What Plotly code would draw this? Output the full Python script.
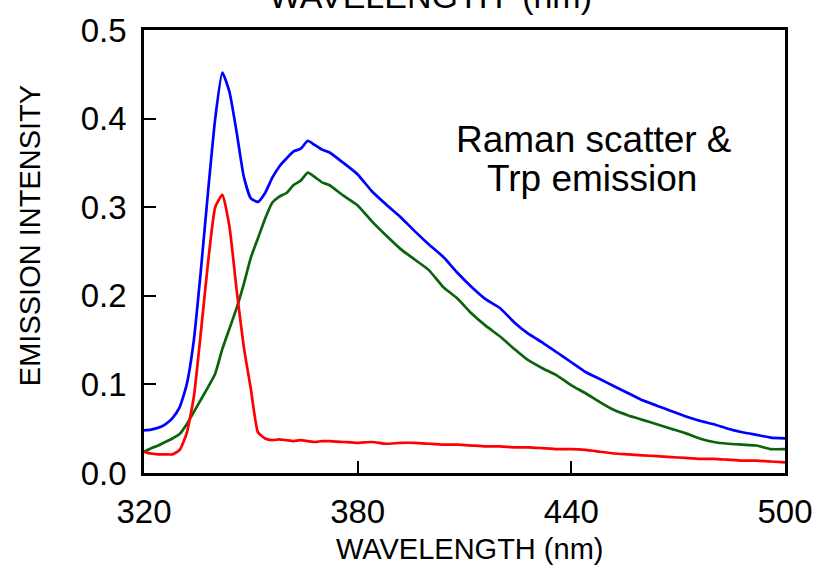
import plotly.graph_objects as go

wavelength = [320, 322, 324, 326, 328, 330, 332, 334, 336, 338, 340, 342, 344, 346, 348,
              350, 352, 354, 356, 358, 360, 362, 364, 366, 368, 370, 372, 376, 380, 384,
              388, 392, 396, 400, 404, 408, 412, 416, 420, 424, 428, 432, 436, 440, 444,
              448, 452, 456, 460, 464, 468, 472, 476, 480, 484, 488, 492, 496, 500]

raman_trp = [0.048, 0.049, 0.051, 0.055, 0.062, 0.074, 0.100, 0.150, 0.230, 0.318, 0.400, 0.452, 0.430, 0.385, 0.335,
             0.310, 0.306, 0.316, 0.333, 0.346, 0.355, 0.363, 0.366, 0.375, 0.370, 0.365, 0.362, 0.350, 0.337, 0.318,
             0.303, 0.289, 0.273, 0.258, 0.244, 0.226, 0.210, 0.196, 0.186, 0.170, 0.157, 0.147, 0.136, 0.125, 0.114,
             0.106, 0.098, 0.090, 0.082, 0.076, 0.070, 0.064, 0.059, 0.055, 0.050, 0.046, 0.043, 0.040, 0.039]

trp_only = [0.024, 0.028, 0.031, 0.035, 0.039, 0.044, 0.055, 0.069, 0.083, 0.097, 0.112, 0.140, 0.163, 0.186, 0.213,
            0.243, 0.265, 0.287, 0.305, 0.312, 0.316, 0.325, 0.330, 0.339, 0.334, 0.328, 0.325, 0.313, 0.302, 0.284,
            0.268, 0.253, 0.241, 0.229, 0.210, 0.197, 0.180, 0.166, 0.154, 0.140, 0.127, 0.118, 0.110, 0.099, 0.090,
            0.080, 0.071, 0.065, 0.060, 0.055, 0.050, 0.045, 0.039, 0.035, 0.033, 0.032, 0.031, 0.027, 0.027]

raman_only = [0.024, 0.022, 0.021, 0.021, 0.021, 0.026, 0.045, 0.086, 0.160, 0.238, 0.300, 0.314, 0.278, 0.207, 0.143,
              0.095, 0.046, 0.039, 0.037, 0.038, 0.037, 0.036, 0.037, 0.036, 0.035, 0.036, 0.036, 0.035, 0.034, 0.035,
              0.033, 0.034, 0.034, 0.033, 0.032, 0.032, 0.031, 0.030, 0.030, 0.029, 0.029, 0.028, 0.027, 0.027, 0.026,
              0.024, 0.022, 0.021, 0.020, 0.019, 0.018, 0.017, 0.016, 0.016, 0.015, 0.014, 0.014, 0.013, 0.012]

x_ticks = [320, 380, 440, 500]
y_ticks = [0.0, 0.1, 0.2, 0.3, 0.4, 0.5]

FONT = "Liberation Sans, Arial, sans-serif"

fig = go.Figure()
for vals, col in [(raman_trp, "#0000FF"), (trp_only, "#0B640B"), (raman_only, "#FF0000")]:
    fig.add_trace(go.Scatter(x=wavelength, y=vals, mode="lines",
                             line=dict(color=col, width=2.7, shape="spline", smoothing=0.5)))

fig.update_layout(
    width=826, height=565,
    margin=dict(l=144, r=41, t=27, b=92),
    paper_bgcolor="white", plot_bgcolor="white",
    showlegend=False,
    font=dict(family=FONT, color="black"),
)
fig.update_xaxes(range=[320, 500], tickvals=x_ticks, ticktext=[str(v) for v in x_ticks],
                 ticks="inside", ticklen=12, tickwidth=2, tickcolor="black",
                 showline=True, linecolor="black", linewidth=2.5, mirror=True,
                 showgrid=False, zeroline=False,
                 tickfont=dict(size=33, family=FONT), ticklabelstandoff=8)
fig.update_yaxes(range=[0, 0.5], tickvals=y_ticks, ticktext=[f"{v:.1f}" for v in y_ticks],
                 ticks="inside", ticklen=12, tickwidth=2, tickcolor="black",
                 showline=True, linecolor="black", linewidth=2.5, mirror=True,
                 showgrid=False, zeroline=False,
                 tickfont=dict(size=33, family=FONT), ticklabelstandoff=8)

ann = [
    dict(text="WAVELENGTH (nm)", x=0.508, y=-0.172, xref="paper", yref="paper",
         showarrow=False, font=dict(size=29, family=FONT), xanchor="center", yanchor="middle"),
    dict(text="EMISSION INTENSITY", x=-0.1776, y=0.535, xref="paper", yref="paper",
         textangle=-90, showarrow=False, font=dict(size=29, family=FONT),
         xanchor="center", yanchor="middle"),
    dict(text="WAVELENGTH  (nm)", x=0.447, y=1.03, xref="paper", yref="paper",
         showarrow=False, font=dict(size=34, family=FONT), xanchor="center", yanchor="bottom"),
    dict(text="Raman scatter &", x=0.7017, y=0.376, xref="paper", yref="y",
         showarrow=False, font=dict(size=37, family=FONT), xanchor="center", yanchor="middle"),
    dict(text="Trp emission", x=0.6994, y=0.332, xref="paper", yref="y",
         showarrow=False, font=dict(size=37, family=FONT), xanchor="center", yanchor="middle"),
]
fig.update_layout(annotations=ann)

fig.write_html("out.html")
